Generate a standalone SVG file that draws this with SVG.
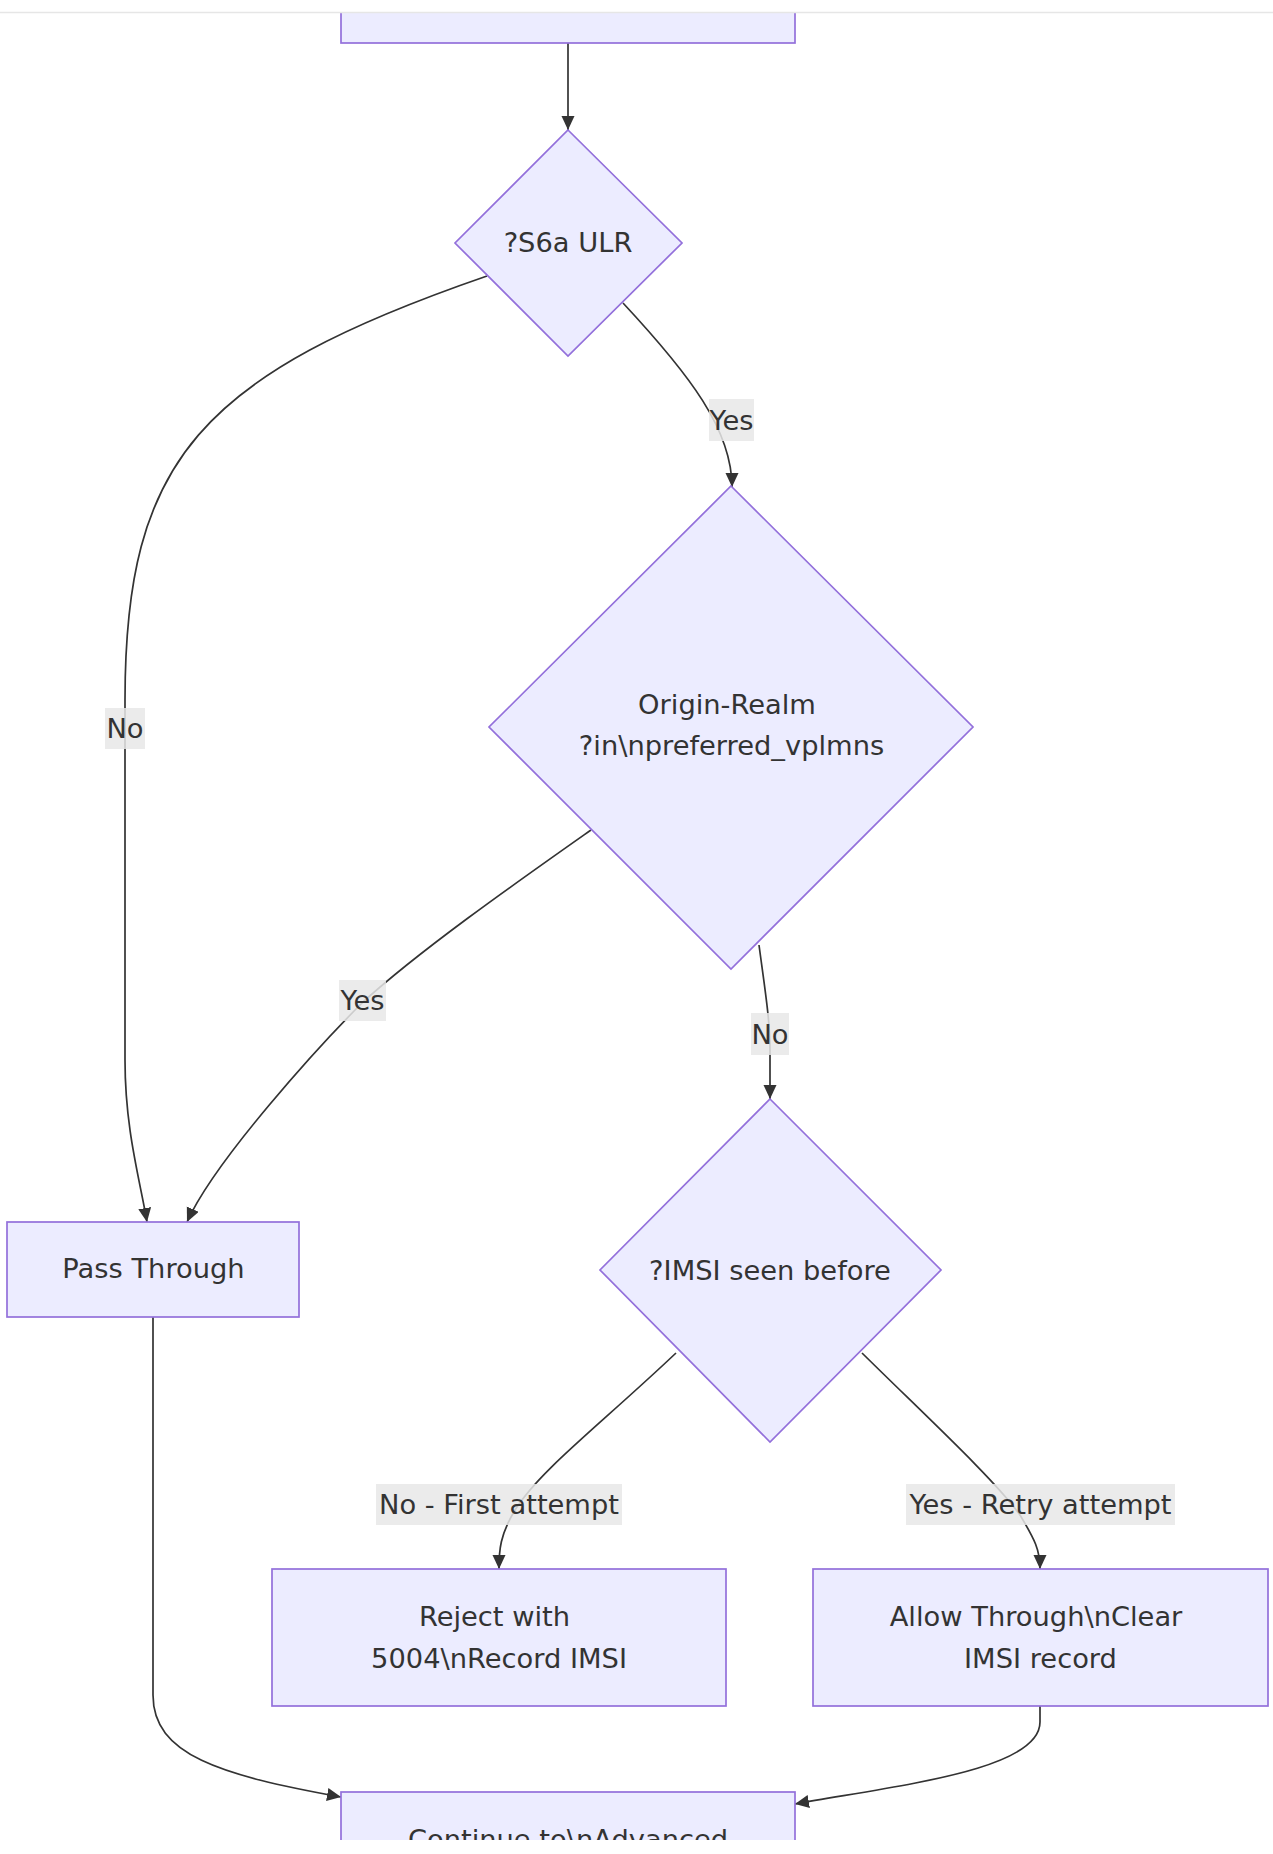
<svg xmlns="http://www.w3.org/2000/svg" width="1273" height="1854" viewBox="0 0 1273 1854">
<style>
.node{fill:#ECECFF;stroke:#9370DB;stroke-width:1.7}
.lbl{font-family:"DejaVu Sans",Verdana,sans-serif;font-size:27.3px;fill:#333;text-anchor:middle}
.edge{fill:none;stroke:#333;stroke-width:1.7}
.ebg{fill:#e8e8e8;opacity:0.85}
</style>
<defs>
<marker id="arr" markerUnits="userSpaceOnUse" markerWidth="16" markerHeight="14" refX="14" refY="6.5" orient="auto">
<path d="M0,0 L14,6.5 L0,13 z" fill="#333"/>
</marker>
</defs>
<rect width="1273" height="1854" fill="#fff"/>

<g id="connectors">
<path class="edge" d="M568,43 L568,130" marker-end="url(#arr)"/>
<path class="edge" d="M623,303 C690,375 732,430 732,487" marker-end="url(#arr)"/>
<path class="edge" d="M487,276 C200,375 125,460 125,700 L125,1060 C125,1130 140,1180 147,1222" marker-end="url(#arr)"/>
<path class="edge" d="M591,830 C520,880 420,950 362,1003 C320,1045 215,1160 187,1222" marker-end="url(#arr)"/>
<path class="edge" d="M759,945 C765,990 770,1020 770,1050 L770,1099" marker-end="url(#arr)"/>
<path class="edge" d="M676,1353 C600,1425 540,1470 515,1510 C500,1535 499,1550 499,1569" marker-end="url(#arr)"/>
<path class="edge" d="M862,1353 C930,1420 995,1480 1020,1515 C1035,1540 1040,1550 1040,1569" marker-end="url(#arr)"/>
<path class="edge" d="M153,1317 L153,1695 C153,1755 220,1775 341,1797" marker-end="url(#arr)"/>
<path class="edge" d="M1040,1706 L1040,1722 C1040,1770 900,1785 795,1804" marker-end="url(#arr)"/>
<g id="edge-labels">
<rect class="ebg" x="709" y="399" width="45" height="42"/>
<text class="lbl" x="731.5" y="430">Yes</text>
<rect class="ebg" x="105" y="708" width="40" height="41"/>
<text class="lbl" x="125" y="738">No</text>
<rect class="ebg" x="339" y="980" width="47" height="41"/>
<text class="lbl" x="362.5" y="1010">Yes</text>
<rect class="ebg" x="751" y="1013" width="38" height="42"/>
<text class="lbl" x="770" y="1044">No</text>
<rect class="ebg" x="376" y="1484" width="246" height="41"/>
<text class="lbl" x="499" y="1514">No - First attempt</text>
<rect class="ebg" x="906" y="1484" width="269" height="41"/>
<text class="lbl" x="1040.5" y="1514">Yes - Retry attempt</text>
</g>
</g>

<g id="node-top">
<rect class="node" x="341" y="-10" width="454" height="53"/>
</g>
<g id="node-s6a">
<polygon class="node" points="568,130 682,243 568,356 455,243"/>
<text class="lbl" x="568" y="252">?S6a ULR</text>
</g>
<g id="node-origin">
<polygon class="node" points="731,486 973,727 731,969 489,727"/>
<text class="lbl" x="727" y="714">Origin-Realm</text>
<text class="lbl" x="731.5" y="755">?in\npreferred_vplmns</text>
</g>
<g id="node-pass">
<rect class="node" x="7" y="1222" width="292" height="95"/>
<text class="lbl" x="153.5" y="1278">Pass Through</text>
</g>
<g id="node-imsi">
<polygon class="node" points="770,1099 941,1270 770,1442 600,1270"/>
<text class="lbl" x="770" y="1280">?IMSI seen before</text>
</g>
<g id="node-reject">
<rect class="node" x="272" y="1569" width="454" height="137"/>
<text class="lbl" x="494.5" y="1626">Reject with</text>
<text class="lbl" x="499" y="1668">5004\nRecord IMSI</text>
</g>
<g id="node-allow">
<rect class="node" x="813" y="1569" width="455" height="137"/>
<text class="lbl" x="1036" y="1626">Allow Through\nClear</text>
<text class="lbl" x="1040.5" y="1668">IMSI record</text>
</g>
<g id="node-continue">
<rect class="node" x="341" y="1792" width="454" height="80"/>
<text class="lbl" x="568" y="1849">Continue to\nAdvanced</text>
</g>

<rect x="0" y="0" width="1273" height="12" fill="#fff"/>
<line x1="0" y1="12.5" x2="1273" y2="12.5" stroke="#e6e6e6" stroke-width="1.5"/>
<rect x="0" y="1840" width="1273" height="14" fill="#fff"/>
</svg>
